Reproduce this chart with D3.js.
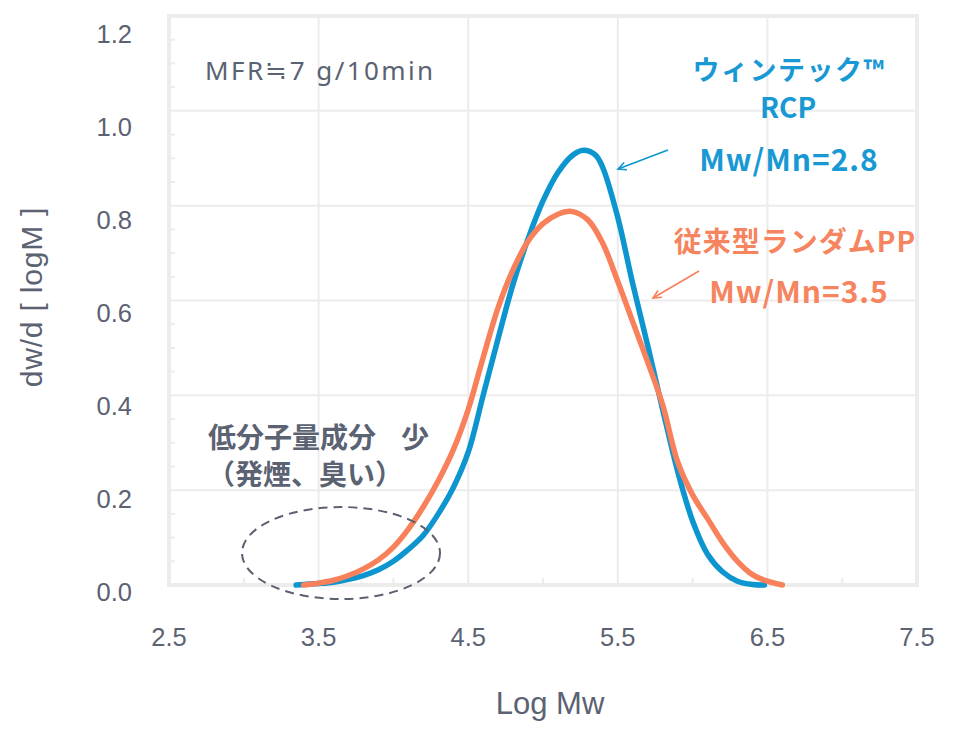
<!DOCTYPE html>
<html><head><meta charset="utf-8">
<script src="https://cdn.jsdelivr.net/npm/d3@7"></script>
<style>
html,body{margin:0;padding:0;background:#fff;}
svg{display:block;}
</style></head>
<body>
<script>
// ---- data ----
const rcpLogM = [3.35,3.5,3.6,3.7,3.8,3.9,4.0,4.1,4.2,4.3,4.4,4.5,4.6,4.7,4.8,4.9,5.0,5.1,5.2,5.27,5.35,5.4,5.5,5.6,5.7,5.8,5.9,6.0,6.1,6.2,6.3,6.4,6.48];
const rcpValues = [0.0,0.003,0.006,0.012,0.02,0.032,0.05,0.075,0.105,0.15,0.205,0.28,0.4,0.52,0.635,0.73,0.81,0.87,0.907,0.917,0.907,0.88,0.775,0.635,0.505,0.37,0.24,0.135,0.065,0.028,0.008,0.001,0.0];
const rppLogM = [3.4,3.5,3.6,3.7,3.8,3.9,4.0,4.1,4.2,4.3,4.4,4.5,4.6,4.7,4.8,4.9,5.0,5.1,5.19,5.3,5.4,5.5,5.6,5.7,5.8,5.9,6.0,6.1,6.2,6.3,6.4,6.5,6.6];
const rppValues = [0.0,0.004,0.01,0.02,0.034,0.053,0.08,0.118,0.165,0.22,0.285,0.37,0.48,0.585,0.665,0.725,0.762,0.782,0.788,0.77,0.72,0.64,0.555,0.47,0.38,0.26,0.19,0.14,0.09,0.05,0.022,0.008,0.0];
const xTicks = [2.5,3.5,4.5,5.5,6.5,7.5];
const xMinor = [3.0,4.0,5.0,6.0,7.0];
const yTicks = [0.0,0.2,0.4,0.6,0.8,1.0,1.2];
const yMinor = [0.05,0.1,0.15,0.25,0.3,0.35,0.45,0.5,0.55,0.65,0.7,0.75,0.85,0.9,0.95,1.05,1.1,1.15];
const xTitle = "Log Mw";
const yTitle = "dw/d [ logM ]";

const W = 958, H = 729;
const svg = d3.select("body").append("svg").attr("width", W).attr("height", H);
const x = d3.scaleLinear().domain([2.5, 7.5]).range([169, 917]);
const y = d3.scaleLinear().domain([0, 1.2]).range([585, 16]);
const yLab = d3.scaleLinear().domain([0, 1.2]).range([592, 34]);

const grid = "#ececec", txt = "#5b6272";
const BLUE = "#0d95cf", ORANGE = "#f8805a";
const FONT = "'Liberation Sans','Noto Sans CJK JP',Arial,sans-serif";
const JFONT = "'Noto Sans CJK JP','Liberation Sans',sans-serif";

// gridlines
svg.append("g").selectAll("line").data(xTicks.slice(1,-1)).join("line")
  .attr("x1", d=>x(d)).attr("x2", d=>x(d)).attr("y1", y(1.2)).attr("y2", y(0))
  .attr("stroke", grid).attr("stroke-width", 2);
svg.append("g").selectAll("line").data(yTicks.slice(1,-1)).join("line")
  .attr("x1", x(2.5)).attr("x2", x(7.5)).attr("y1", d=>y(d)).attr("y2", d=>y(d))
  .attr("stroke", grid).attr("stroke-width", 2);
// minor ticks
svg.append("g").selectAll("line").data(yMinor).join("line")
  .attr("x1", x(2.5)).attr("x2", x(2.5)+6).attr("y1", d=>y(d)).attr("y2", d=>y(d))
  .attr("stroke", grid).attr("stroke-width", 2);
svg.append("g").selectAll("line").data(xMinor).join("line")
  .attr("x1", d=>x(d)).attr("x2", d=>x(d)).attr("y1", y(0)).attr("y2", y(0)-7)
  .attr("stroke", grid).attr("stroke-width", 2);
// frame
svg.append("rect").attr("x", x(2.5)).attr("y", y(1.2))
  .attr("width", x(7.5)-x(2.5)).attr("height", y(0)-y(1.2))
  .attr("fill", "none").attr("stroke", grid).attr("stroke-width", 4);

// tick labels
svg.append("g").selectAll("text").data(yTicks).join("text")
  .attr("x", 132).attr("y", d=>yLab(d)).attr("text-anchor","end").attr("dominant-baseline","central")
  .attr("font-family", FONT).attr("font-size", 25.5).attr("fill", txt)
  .text(d=>d3.format(".1f")(d));
svg.append("g").selectAll("text").data(xTicks).join("text")
  .attr("x", d=>x(d)).attr("y", 637).attr("text-anchor","middle").attr("dominant-baseline","central")
  .attr("font-family", FONT).attr("font-size", 25.5).attr("fill", txt)
  .text(d=>d3.format(".1f")(d));
// axis titles
svg.append("text").attr("x", 550).attr("y", 703).attr("text-anchor","middle").attr("dominant-baseline","central")
  .attr("font-family", FONT).attr("font-size", 31).attr("fill", txt).text(xTitle);
svg.append("text").attr("transform","translate(31,297) rotate(-90)").attr("text-anchor","middle").attr("dominant-baseline","central")
  .attr("font-family", FONT).attr("font-size", 30).attr("letter-spacing", 0.8).attr("fill", txt).text(yTitle);

// curves
const line = d3.line().x(d=>x(d[0])).y(d=>y(d[1])).curve(d3.curveCatmullRom.alpha(0.5));
svg.append("path").datum(d3.zip(rcpLogM, rcpValues)).attr("d", line)
  .attr("fill","none").attr("stroke", BLUE).attr("stroke-width", 5.5).attr("stroke-linecap","round").attr("stroke-linejoin","round");
svg.append("path").datum(d3.zip(rppLogM, rppValues)).attr("d", line)
  .attr("fill","none").attr("stroke", ORANGE).attr("stroke-width", 5.5).attr("stroke-linecap","round").attr("stroke-linejoin","round");

// dashed ellipse
svg.append("ellipse").attr("cx", 341).attr("cy", 553).attr("rx", 99).attr("ry", 46)
  .attr("fill","none").attr("stroke", "#5b6170").attr("stroke-width", 2).attr("stroke-dasharray","9,6");

// annotations
svg.append("text").attr("x", 205).attr("y", 70).attr("dominant-baseline","central")
  .attr("font-family", "'Noto Sans','Noto Sans CJK JP',sans-serif").attr("font-size", 26)
  .attr("letter-spacing", 2.4).attr("fill", txt).text("MFR≒7 g/10min");

function label(t, cx, cy, color, size, ls) {
  svg.append("text").attr("x", cx).attr("y", cy).attr("text-anchor","middle").attr("dominant-baseline","central")
    .attr("font-family", JFONT).attr("font-weight", "bold").attr("font-size", size)
    .attr("letter-spacing", ls || 0).attr("fill", color).text(t);
}
const BLUE_T = "#1899d3", ORANGE_T = "#f6845e";
label("ウィンテック™", 789, 68, BLUE_T, 27, 1.5);
label("RCP", 788, 106, BLUE_T, 28);
label("Mw/Mn=2.8", 789, 158, BLUE_T, 30, 1);
label("従来型ランダムPP", 795, 240, ORANGE_T, 28, 1);
label("Mw/Mn=3.5", 799, 290, ORANGE_T, 30, 1);

svg.append("text").attr("x", 208).attr("y", 436).attr("dominant-baseline","central")
  .attr("font-family", JFONT).attr("font-weight","bold").attr("font-size", 28).attr("fill", txt).text("低分子量成分");
svg.append("text").attr("x", 401).attr("y", 436).attr("dominant-baseline","central")
  .attr("font-family", JFONT).attr("font-weight","bold").attr("font-size", 28).attr("fill", txt).text("少");
svg.append("text").attr("x", 207).attr("y", 473).attr("dominant-baseline","central")
  .attr("font-family", JFONT).attr("font-weight","bold").attr("font-size", 28).attr("fill", txt).text("（発煙、臭い）");

// arrows
function arrow(x1,y1,x2,y2,color){
  svg.append("line").attr("x1",x1).attr("y1",y1).attr("x2",x2).attr("y2",y2)
    .attr("stroke",color).attr("stroke-width",1.6);
  const a = Math.atan2(y2-y1, x2-x1), L = 9, s = 0.45;
  const p = [[x2 - L*Math.cos(a-s), y2 - L*Math.sin(a-s)],[x2,y2],[x2 - L*Math.cos(a+s), y2 - L*Math.sin(a+s)]];
  svg.append("path").attr("d", d3.line()(p)).attr("fill","none").attr("stroke",color).attr("stroke-width",1.6);
}
arrow(668,150,618,169,BLUE);
arrow(699,271,653,298,ORANGE);
</script>
</body></html>
